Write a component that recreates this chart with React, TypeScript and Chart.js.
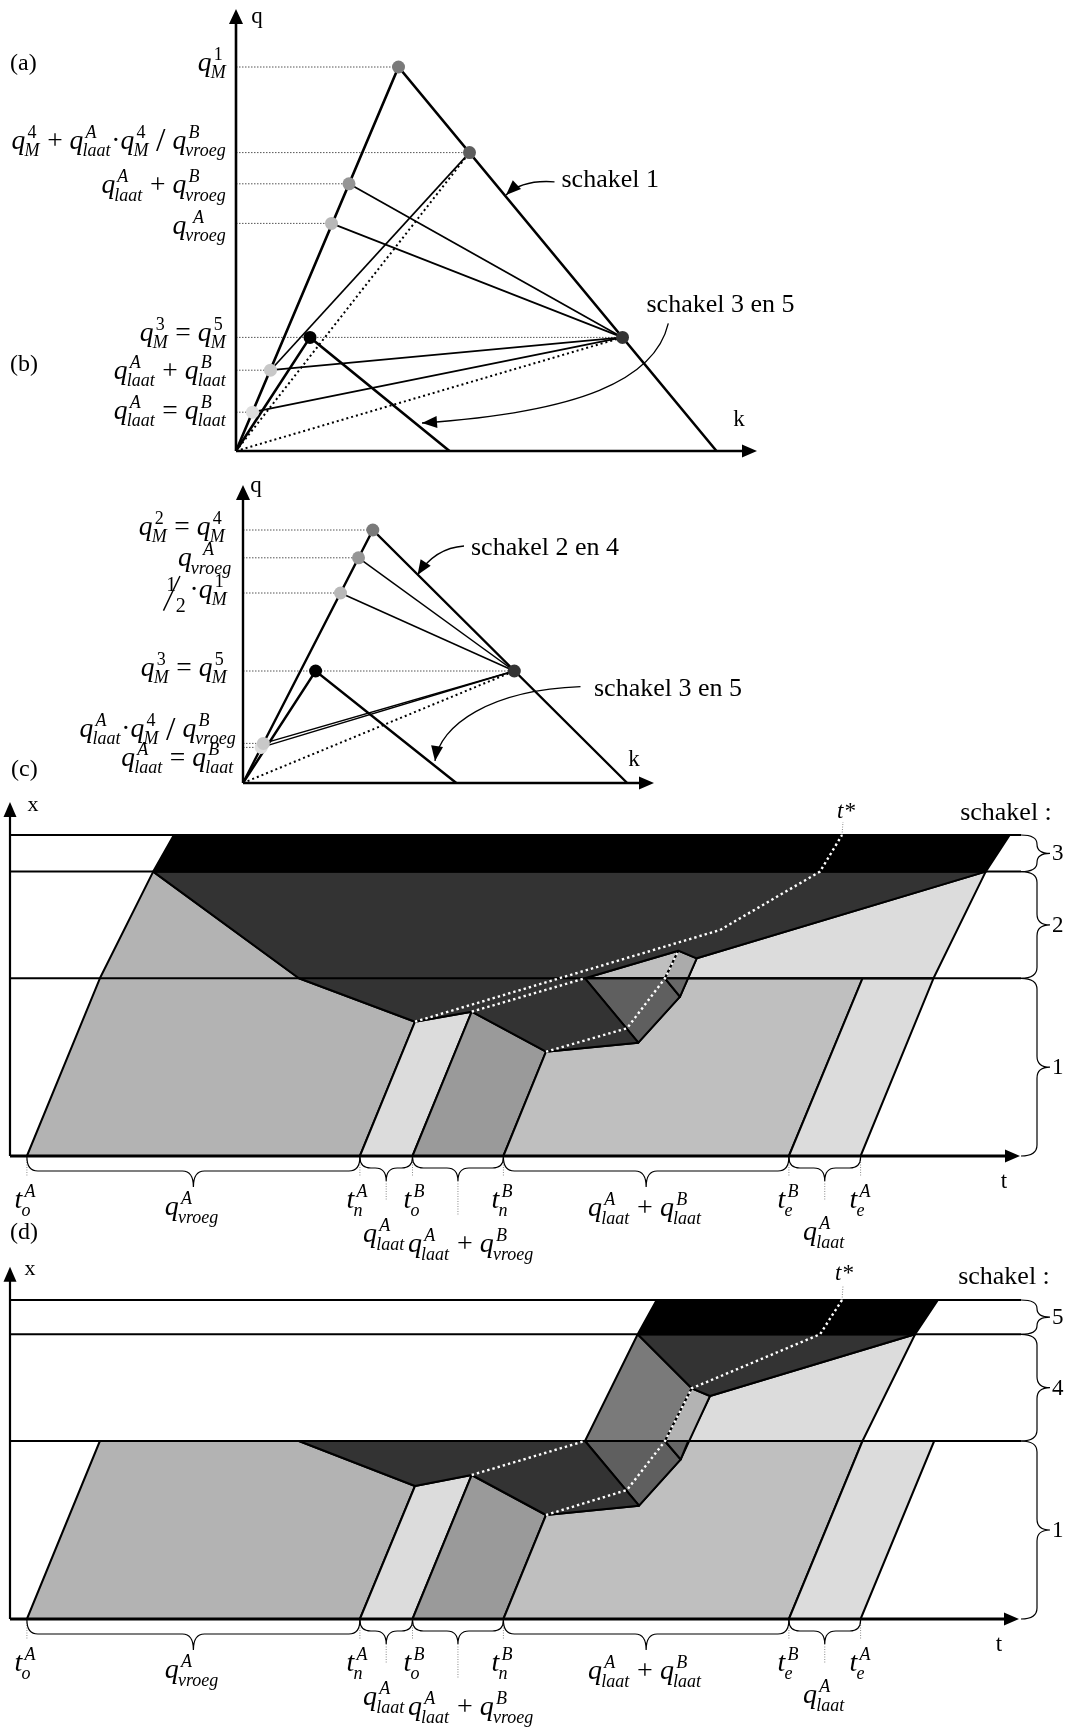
import React, { useEffect, useRef } from "react";
import { Chart, registerables } from "chart.js";

Chart.register(...registerables);

type XY = [number, number];
type Ctx = CanvasRenderingContext2D;
type Scale1 = (v: number) => number;

const SERIF = "'Liberation Serif', 'Times New Roman', serif";
const PAGE_W = 1077;
const PAGE_H = 1729;

/* ───────────── (a)/(b): fundamental diagrams of link 1 and links 3/5 ───────────── */
const fdLink1: XY[] = [[0, 0], [32.5, 96], [96.1, 0]];
const fdLink35: XY[] = [[0, 0], [14.8, 28.4], [42.7, 0]];
// traffic states (k, q) and their marker shades
const statesAK = [32.5, 46.7, 22.6, 19.1, 14.8, 77.3, 3.3, 6.9];
const statesAQ = [96, 74.6, 66.8, 56.9, 28.4, 28.4, 9.7, 20.2];
const statesAColor = ["#7a7a7a", "#5e5e5e", "#959595", "#b8b8b8", "#000000", "#333333", "#dedede", "#c8c8c8"];
const chordsA: XY[] = [[5, 2], [5, 3], [5, 7], [5, 6], [1, 7]];
const raysA = [5, 1];
const guidesA = [0, 1, 2, 3, 5, 7, 6];
const labelsA = [
  "q_{M}^{1}",
  "q_{M}^{4} + q_{laat}^{A}·q_{M}^{4} / q_{vroeg}^{B}",
  "q_{laat}^{A} + q_{vroeg}^{B}",
  "q^{ A}_{vroeg}",
  "q_{M}^{3} = q_{M}^{5}",
  "q_{laat}^{A} + q_{laat}^{B}",
  "q_{laat}^{A} = q_{laat}^{B}",
];
const labelsAQ = [95, 75.6, 64.4, 54.3, 27.6, 18.1, 8.1];

/* ───────────── second diagram: links 2/4 and 3/5 ───────────── */
const fdLink24: XY[] = [[0, 0], [25.96, 63.25], [76.84, 0]];
const fdLink35b: XY[] = [[0, 0], [14.52, 28], [42.66, 0]];
const statesCK = [25.96, 23.1, 19.5, 14.52, 54.26, 3.64, 4.08];
const statesCQ = [63.25, 56.3, 47.5, 28, 28, 8.9, 9.9];
const statesCColor = ["#7a7a7a", "#959595", "#b8b8b8", "#000000", "#333333", "#dedede", "#c8c8c8"];
const chordsC: XY[] = [[4, 1], [4, 2], [4, 5], [4, 6]];
const raysC = [4];
const guidesC = [0, 1, 2, 4, 5, 6];
const labelsC = [
  "q_{M}^{2} = q_{M}^{4}",
  "q^{  A}_{vroeg}",
  "½·q_{M}^{1}",
  "q_{M}^{3} = q_{M}^{5}",
  "q_{laat}^{A}·q_{M}^{4} / q_{vroeg}^{B}",
  "q_{laat}^{A} = q_{laat}^{B}",
];
const labelsCQ = [62, 54.2, 46.25, 26.75, 11.5, 4.3];

/* ───────────── (c): time–space diagram, links 1-2-3 ───────────── */
const levelsC = [17.77, 28.44, 32.1];
const cVroegA: XY[] = [[1.69, 0], [8.99, 17.77], [14.32, 28.44], [28.89, 17.77], [40.5, 13.43], [34.99, 0]];
const cLaatA: XY[] = [[34.99, 0], [40.5, 13.43], [46.17, 14.43], [40.25, 0]];
const cLaatAVroegB: XY[] = [[40.25, 0], [46.17, 14.43], [53.6, 10.43], [49.34, 0]];
const cLaatAB: XY[] = [[49.34, 0], [53.6, 10.43], [62.83, 11.33], [67, 15.93], [65.5, 17.77], [85.25, 17.77], [77.89, 0]];
const cLaatAB2: XY[] = [[57.5, 17.77], [66.83, 20.53], [65.5, 17.77]];
const cTailA: XY[] = [[77.89, 0], [85.25, 17.77], [92.35, 17.77], [85.06, 0]];
const cTail2: XY[] = [[68.67, 19.77], [97.57, 28.44], [92.35, 17.77], [67.8, 17.77]];
const cSpill: XY[] = [[57.5, 17.77], [65.5, 17.77], [67, 15.93], [62.83, 11.33]];
const cWedge: XY[] = [[66.83, 20.53], [68.67, 19.77], [67, 15.93], [65.5, 17.77]];
const cWedgeLow: XY[] = [[65.5, 17.77], [67.8, 17.77], [67, 15.93]];
const cQueue2: XY[] = [[14.32, 28.44], [97.57, 28.44], [68.67, 19.77], [66.83, 20.53], [57.5, 17.77], [62.83, 11.33], [53.6, 10.43], [46.17, 14.43], [40.5, 13.43], [28.89, 17.77]];
const cQueue3: XY[] = [[14.32, 28.44], [16.39, 32.1], [99.97, 32.1], [97.57, 28.44]];
const cStar1: XY[] = [[40.5, 13.43], [71, 22.6], [81, 28.44], [83.2, 32.1]];
const cStar2: XY[] = [[46.17, 14.43], [57.5, 17.77]];
const cStar3: XY[] = [[53.6, 10.43], [61.7, 12.77], [65.5, 17.77], [66.83, 20.53]];

/* ───────────── (d): time–space diagram, links 1-4-5 ───────────── */
const levelsD = [17.8, 28.47, 31.9];
const dVroegA: XY[] = [[1.69, 0], [8.99, 17.8], [28.89, 17.8], [40.5, 13.3], [34.99, 0]];
const dLaatA: XY[] = [[34.99, 0], [40.5, 13.3], [46.17, 14.4], [40.25, 0]];
const dLaatAVroegB: XY[] = [[40.25, 0], [46.17, 14.4], [53.6, 10.4], [49.34, 0]];
const dLaatAB: XY[] = [[49.34, 0], [53.6, 10.4], [62.9, 11.33], [67.07, 15.97], [65.5, 17.8], [85.25, 17.8], [77.89, 0]];
const dTailA: XY[] = [[77.89, 0], [85.25, 17.8], [92.42, 17.8], [85.06, 0]];
const dTail4: XY[] = [[70, 22.3], [90.51, 28.47], [85.25, 17.8], [67.83, 17.8]];
const dSpill1: XY[] = [[57.5, 17.8], [65.5, 17.8], [67.07, 15.97], [62.9, 11.33]];
const dSpill4: XY[] = [[62.77, 28.47], [68.17, 23.07], [65.5, 17.8], [57.5, 17.8]];
const dWedge: XY[] = [[68.17, 23.07], [70, 22.3], [67.07, 15.97], [65.5, 17.8]];
const dWedgeLow: XY[] = [[65.5, 17.8], [67.83, 17.8], [67.07, 15.97]];
const dQueue1: XY[] = [[28.89, 17.8], [57.5, 17.8], [62.9, 11.33], [53.6, 10.4], [46.17, 14.4], [40.5, 13.3]];
const dQueue4: XY[] = [[62.77, 28.47], [90.51, 28.47], [70, 22.3], [68.17, 23.07]];
const dQueue5: XY[] = [[62.77, 28.47], [64.67, 31.9], [92.79, 31.9], [90.51, 28.47]];
const dStar1: XY[] = [[46.17, 14.4], [57.5, 17.8]];
const dStar2: XY[] = [[53.6, 10.4], [61.7, 12.9], [65.5, 17.8], [68.17, 23.07], [81, 28.47], [83.2, 31.9]];

/* ───────────── t-axis markers shared by (c) and (d) ───────────── */
const tMarks = [1.69, 34.99, 40.25, 49.34, 77.89, 85.06];
const tMarkNames = ["t_{o}^{A}", "t_{n}^{A}", "t_{o}^{B}", "t_{n}^{B}", "t_{e}^{B}", "t_{e}^{A}"];
const tMarkNameT = [1.5, 34.7, 40.4, 49.2, 77.8, 85.0];
const flowSpans: XY[] = [[1.69, 34.99], [34.99, 40.25], [40.25, 49.34], [49.34, 77.89], [77.89, 85.06]];
const flowNames = ["q_{vroeg}^{A}", "q_{laat}^{A}", "q_{laat}^{A} + q_{vroeg}^{B}", "q_{laat}^{A} + q_{laat}^{B}", "q_{laat}^{A}"];
const flowNameT = [18.2, 37.4, 46.1, 63.5, 81.4];
const flowNameX = [-5.9, -8.6, -9.6, -6.0, -8.4];
const flowLeader = [0, 2.0, 3.4, 0, 2.0];

/* ───────────── dataset helpers ───────────── */
const pts = (a: XY[]) => a.map(([x, y]) => ({ x, y }));
function area(v: XY[], color: string, edge = 2) {
  return {
    data: pts([...v, v[0]]), showLine: true, fill: "shape", backgroundColor: color,
    borderColor: "#000", borderWidth: edge, borderJoinStyle: "round", pointRadius: 0, pointHoverRadius: 0, tension: 0, clip: false,
  };
}
function path(a: XY[], color = "#000", width = 2, dash: number[] = []) {
  return {
    data: pts(a), showLine: true, fill: false, borderColor: color, borderWidth: width, borderDash: dash,
    borderCapStyle: "butt", pointRadius: 0, pointHoverRadius: 0, tension: 0, clip: false,
  };
}
function marks(a: XY[], colors: string[], r = 6.5) {
  return {
    data: pts(a), showLine: false, pointRadius: r, pointHoverRadius: r, pointBackgroundColor: colors,
    pointBorderColor: colors, pointBorderWidth: 0, clip: false,
  };
}

/* ───────────── drawing helpers for the annotation layer ───────────── */
function text(ctx: Ctx, s: string, x: number, y: number, size: number, align: CanvasTextAlign = "left", base: CanvasTextBaseline = "alphabetic", italic = false) {
  ctx.font = `${italic ? "italic " : ""}${size}px ${SERIF}`;
  ctx.fillStyle = "#000";
  ctx.textAlign = align;
  ctx.textBaseline = base;
  ctx.fillText(s, x, y);
}
function head(ctx: Ctx, x: number, y: number, ang: number, len = 15, half = 6.5) {
  ctx.save();
  ctx.translate(x, y);
  ctx.rotate(ang);
  ctx.beginPath();
  ctx.moveTo(0, 0);
  ctx.lineTo(-len, -half);
  ctx.lineTo(-len, half);
  ctx.closePath();
  ctx.fillStyle = "#000";
  ctx.fill();
  ctx.restore();
}
function curvedArrow(ctx: Ctx, p: XY[]) {
  ctx.beginPath();
  ctx.moveTo(p[0][0], p[0][1]);
  if (p.length === 3) ctx.quadraticCurveTo(p[1][0], p[1][1], p[2][0], p[2][1]);
  else ctx.bezierCurveTo(p[1][0], p[1][1], p[2][0], p[2][1], p[3][0], p[3][1]);
  ctx.setLineDash([]);
  ctx.lineWidth = 1.3;
  ctx.strokeStyle = "#000";
  ctx.stroke();
  const a = p[p.length - 2], b = p[p.length - 1];
  head(ctx, b[0], b[1], Math.atan2(b[1] - a[1], b[0] - a[0]), 15, 6);
}
function hBrace(ctx: Ctx, x1: number, x2: number, y: number) {
  const d = x2 - x1 > 100 ? 30 : 24;
  const h = d / 2 - 1;
  const r = Math.min(11, (x2 - x1) / 4);
  const m = (x1 + x2) / 2;
  ctx.beginPath();
  ctx.moveTo(x1, y);
  ctx.quadraticCurveTo(x1, y + h, x1 + r, y + h);
  ctx.lineTo(m - r, y + h);
  ctx.quadraticCurveTo(m, y + h, m, y + d);
  ctx.quadraticCurveTo(m, y + h, m + r, y + h);
  ctx.lineTo(x2 - r, y + h);
  ctx.quadraticCurveTo(x2, y + h, x2, y);
  ctx.setLineDash([]);
  ctx.lineWidth = 1.2;
  ctx.strokeStyle = "#000";
  ctx.stroke();
  return y + d;
}
function vBrace(ctx: Ctx, yTop: number, yBot: number, x: number) {
  const spine = x + 16, tip = x + 29;
  const r = Math.min(11, (yBot - yTop) / 4);
  const m = (yTop + yBot) / 2;
  ctx.beginPath();
  ctx.moveTo(x, yTop);
  ctx.quadraticCurveTo(spine, yTop, spine, yTop + r);
  ctx.lineTo(spine, m - r);
  ctx.quadraticCurveTo(spine, m, tip, m);
  ctx.quadraticCurveTo(spine, m, spine, m + r);
  ctx.lineTo(spine, yBot - r);
  ctx.quadraticCurveTo(spine, yBot, x, yBot);
  ctx.setLineDash([]);
  ctx.lineWidth = 1.2;
  ctx.strokeStyle = "#000";
  ctx.stroke();
  return [tip, m];
}
function vDots(ctx: Ctx, x: number, y1: number, y2: number) {
  ctx.beginPath();
  ctx.moveTo(x, y1);
  ctx.lineTo(x, y2);
  ctx.setLineDash([1, 1.5]);
  ctx.lineWidth = 1;
  ctx.strokeStyle = "#8a8a8a";
  ctx.stroke();
  ctx.setLineDash([]);
}

/* tiny math typesetter: base glyphs with stacked _{sub} and ^{sup} */
function parseMath(s: string) {
  const out: { base: string; sub?: string; sup?: string }[] = [];
  let i = 0;
  const group = () => {
    if (s[i] === "{") {
      const j = s.indexOf("}", i);
      const g = s.slice(i + 1, j);
      i = j + 1;
      return g;
    }
    return s[i++];
  };
  while (i < s.length) {
    const c = s[i];
    if ((c === "_" || c === "^") && out.length) {
      i++;
      const g = group();
      if (c === "_") out[out.length - 1].sub = g;
      else out[out.length - 1].sup = g;
    } else {
      out.push({ base: c });
      i++;
    }
  }
  return out;
}
const mathFont = (t: string, size: number) => `${/[A-Za-z]/.test(t) ? "italic " : ""}${size}px ${SERIF}`;
function drawMath(ctx: Ctx, s: string, x: number, y: number, size: number, align: "left" | "center" | "right") {
  const pieces = parseMath(s);
  const small = Math.round(size * 0.66);
  const baseSize = (b: string) => (b === "/" ? Math.round(size * 1.25) : size);
  const dims = pieces.map((p) => {
    let w: number;
    if (p.base === "½") w = size * 0.95;
    else {
      ctx.font = mathFont(p.base, baseSize(p.base));
      w = ctx.measureText(p.base).width;
    }
    let sw = 0;
    if (p.sub) {
      ctx.font = mathFont(p.sub, small);
      sw = ctx.measureText(p.sub).width;
    }
    if (p.sup) {
      ctx.font = mathFont(p.sup, small);
      sw = Math.max(sw, ctx.measureText(p.sup).width + size * 0.08);
    }
    return [w, sw];
  });
  const total = dims.reduce((a, d) => a + d[0] + d[1], 0);
  let cx = align === "left" ? x : align === "right" ? x - total : x - total / 2;
  ctx.fillStyle = "#000";
  ctx.textAlign = "left";
  ctx.textBaseline = "alphabetic";
  pieces.forEach((p, i) => {
    const [w] = dims[i];
    if (p.base === "½") {
      ctx.font = `${Math.round(size * 0.72)}px ${SERIF}`;
      ctx.fillText("1", cx + size * 0.1, y - size * 0.24);
      ctx.fillText("2", cx + size * 0.45, y + size * 0.52);
      ctx.beginPath();
      ctx.moveTo(cx, y + size * 0.46);
      ctx.lineTo(cx + size * 0.6, y - size * 0.8);
      ctx.lineWidth = 1.4;
      ctx.strokeStyle = "#000";
      ctx.stroke();
    } else {
      ctx.font = mathFont(p.base, baseSize(p.base));
      ctx.fillText(p.base, cx, p.base === "/" ? y + size * 0.1 : y);
    }
    if (p.sub) {
      ctx.font = mathFont(p.sub, small);
      ctx.fillText(p.sub, cx + w - size * 0.03, y + size * 0.27);
    }
    if (p.sup) {
      ctx.font = mathFont(p.sup, small);
      ctx.fillText(p.sup, cx + w + size * 0.08, y - size * 0.4);
    }
    cx += dims[i][0] + dims[i][1];
  });
}

/* ───────────── one Chart.js instance per panel ───────────── */
interface PanelProps {
  top: number;
  height: number;
  box: [number, number, number, number];
  xMax: number;
  yMax: number;
  datasets: any[];
  decorate: (ctx: Ctx, X: Scale1, Y: Scale1) => void;
}
function Panel({ top, height, box, xMax, yMax, datasets, decorate }: PanelProps) {
  const ref = useRef<HTMLCanvasElement>(null);
  useEffect(() => {
    const canvas = ref.current;
    if (!canvas) return;
    const n = datasets.length;
    const chart = new Chart(canvas, {
      type: "scatter",
      data: { datasets: datasets.map((d, i) => ({ ...d, order: n - i })) },
      options: {
        responsive: false,
        maintainAspectRatio: false,
        animation: false,
        events: [],
        layout: { padding: { left: box[0], top: box[1], right: PAGE_W - box[2], bottom: height - box[3] } },
        scales: {
          x: { type: "linear", min: 0, max: xMax, display: false },
          y: { type: "linear", min: 0, max: yMax, display: false },
        },
        plugins: { legend: { display: false }, tooltip: { enabled: false } },
      },
      plugins: [
        {
          id: "annotations",
          afterDatasetsDraw(c: any) {
            const ctx = c.ctx as Ctx;
            ctx.save();
            decorate(ctx, (v) => c.scales.x.getPixelForValue(v), (v) => c.scales.y.getPixelForValue(v));
            ctx.restore();
          },
        },
      ],
    } as any);
    return () => chart.destroy();
  }, []);
  return <canvas ref={ref} width={PAGE_W} height={height} style={{ position: "absolute", left: 0, top, width: PAGE_W, height }} />;
}

const FD_LABEL = 27.5;
const TS_LABEL = 28;

/* ───────────── panel (a)/(b) ───────────── */
const A_KMAX = 104.2, A_QMAX = 110.5;
const stateA = (i: number): XY => [statesAK[i], statesAQ[i]];
const datasetsA = [
  ...guidesA.map((i) => path([[0, statesAQ[i]], stateA(i)], "#555", 1, [1.5, 1.5])),
  path([[0, 0], [0, A_QMAX - 3]], "#000", 2.6),
  path([[0, 0], [A_KMAX - 2.5, 0]], "#000", 2.6),
  ...chordsA.map(([a, b]) => path([stateA(a), stateA(b)], "#000", 1.7)),
  ...raysA.map((i) => path([[0, 0], stateA(i)], "#000", 2, [2, 3])),
  path(fdLink1, "#000", 2.6),
  path(fdLink35, "#000", 2.6),
  marks(statesAK.map((k, i) => [k, statesAQ[i]] as XY), statesAColor),
];
function decorA(ctx: Ctx, X: Scale1, Y: Scale1) {
  head(ctx, X(0), Y(A_QMAX), -Math.PI / 2, 15, 7);
  head(ctx, X(A_KMAX), Y(0), 0, 15, 6.5);
  text(ctx, "q", X(4.2), Y(108.6), 23, "center", "middle");
  text(ctx, "k", X(100.6), Y(7.75), 23, "center", "middle");
  text(ctx, "(a)", X(-45.2), Y(96.75), 24, "left", "middle");
  text(ctx, "(b)", X(-45.2), Y(21.5), 24, "left", "middle");
  labelsA.forEach((s, i) => drawMath(ctx, s, X(-1.9), Y(labelsAQ[i]), FD_LABEL, "right"));
  text(ctx, "schakel 1", X(65.1), Y(66), 26);
  text(ctx, "schakel 3 en 5", X(82.1), Y(34.8), 26);
  curvedArrow(ctx, [[X(63.7), Y(67.3)], [X(57.3), Y(67.9)], [X(54), Y(64)]]);
  curvedArrow(ctx, [[X(86.46), Y(31.9)], [X(83.8), Y(17.75)], [X(68.8), Y(9.75)], [X(37.2), Y(7)]]);
}

/* ───────────── second diagram ───────────── */
const C_KMAX = 82.2, C_QMAX = 74.5;
const stateC = (i: number): XY => [statesCK[i], statesCQ[i]];
const datasetsC2 = [
  ...guidesC.map((i) => path([[0, statesCQ[i]], stateC(i)], "#555", 1, [1.5, 1.5])),
  path([[0, 0], [0, C_QMAX - 3]], "#000", 2.4),
  path([[0, 0], [C_KMAX - 2.5, 0]], "#000", 2.4),
  ...chordsC.map(([a, b]) => path([stateC(a), stateC(b)], "#000", 1.5)),
  ...raysC.map((i) => path([[0, 0], stateC(i)], "#000", 2, [2, 3])),
  path(fdLink24, "#000", 2.4),
  path(fdLink35b, "#000", 2.4),
  marks(statesCK.map((k, i) => [k, statesCQ[i]] as XY), statesCColor),
];
function decorC2(ctx: Ctx, X: Scale1, Y: Scale1) {
  head(ctx, X(0), Y(C_QMAX), -Math.PI / 2, 15, 7);
  head(ctx, X(C_KMAX), Y(0), 0, 15, 6.5);
  text(ctx, "q", X(2.6), Y(74.2), 23, "center", "middle");
  text(ctx, "k", X(78.2), Y(5.75), 23, "center", "middle");
  text(ctx, "(c)", X(-46.4), Y(3.2), 24, "left", "middle");
  const rightEdge = [-3.5, -2.2, -3.1, -3.1, -1.3, -1.8];
  labelsC.forEach((s, i) => drawMath(ctx, s, X(rightEdge[i]), Y(labelsCQ[i]), FD_LABEL, "right"));
  text(ctx, "schakel 2 en 4", X(45.6), Y(57), 26);
  text(ctx, "schakel 3 en 5", X(70.2), Y(21.75), 26);
  curvedArrow(ctx, [[X(44.2), Y(59.25)], [X(38.4), Y(58.75)], [X(34.9), Y(52)]]);
  curvedArrow(ctx, [[X(67.5), Y(24.1)], [X(49.4), Y(23.25)], [X(39.4), Y(14.5)], [X(38.4), Y(5.5)]]);
}

/* ───────────── time–space panels ───────────── */
function timeSpaceDatasets(polys: [XY[], string][], levels: number[], stars: XY[][], xMax: number, yMax: number, starTop: XY[]) {
  return [
    ...polys.map(([v, c]) => area(v, c)),
    ...levels.map((L) => path([[0, L], [101.1, L]], "#000", 2)),
    path([[0, 0], [0, yMax - 1.2]], "#000", 2.2),
    path([[0, 0], [xMax - 1.2, 0]], "#000", 3),
    ...stars.map((s) => path(s, "#ffffff", 2.4, [2.4, 3])),
    path(starTop, "#8a8a8a", 1, [1, 1.5]),
  ];
}
function timeSpaceDecor(levels: number[], names: string[], xMax: number, yMax: number, lab: { x: XY; t: XY; schakel: XY; star: XY }, extra?: (ctx: Ctx, X: Scale1, Y: Scale1) => void) {
  return (ctx: Ctx, X: Scale1, Y: Scale1) => {
    head(ctx, X(0), Y(yMax), -Math.PI / 2, 15, 6.5);
    head(ctx, X(xMax), Y(0), 0, 15, 6.5);
    text(ctx, "x", X(lab.x[0]), Y(lab.x[1]), 22, "center", "middle");
    text(ctx, "t", X(lab.t[0]), Y(lab.t[1]), 23, "center", "middle");
    text(ctx, "schakel :", X(lab.schakel[0]), Y(lab.schakel[1]), 26, "center", "middle");
    text(ctx, "t*", X(lab.star[0]), Y(lab.star[1]), 23, "center", "middle", true);
    const y0 = Y(0);
    tMarks.forEach((t) => vDots(ctx, X(t), y0 + 1, y0 + 21));
    flowSpans.forEach(([a, b], i) => {
      const tipY = hBrace(ctx, X(a), X(b), y0 + 1);
      if (flowLeader[i] > 0) vDots(ctx, X((a + b) / 2), tipY, tipY + (Y(-flowLeader[i]) - y0));
    });
    tMarkNames.forEach((s, i) => drawMath(ctx, s, X(tMarkNameT[i]), Y(-5.2), TS_LABEL, "center"));
    flowNames.forEach((s, i) => drawMath(ctx, s, X(flowNameT[i]), Y(flowNameX[i]), TS_LABEL, "center"));
    const bounds = [0, ...levels];
    for (let i = 0; i < names.length; i++) {
      const [tip, m] = vBrace(ctx, Y(bounds[i + 1]), Y(bounds[i]), X(101.1));
      text(ctx, names[i], tip + 2, m + 1, 23, "left", "middle");
    }
    if (extra) extra(ctx, X, Y);
  };
}

const TC_MAX = 101, XC_MAX = 35.4;
const datasetsTC = timeSpaceDatasets(
  [
    [cVroegA, "#b3b3b3"],
    [cLaatA, "#dcdcdc"],
    [cLaatAVroegB, "#9a9a9a"],
    [cLaatAB, "#bfbfbf"],
    [cLaatAB2, "#bfbfbf"],
    [cTailA, "#dcdcdc"],
    [cTail2, "#dcdcdc"],
    [cSpill, "#5f5f5f"],
    [cWedge, "#ababab"],
    [cWedgeLow, "#686868"],
    [cQueue2, "#333333"],
    [cQueue3, "#000000"],
  ],
  levelsC,
  [cStar1, cStar2, cStar3],
  TC_MAX,
  XC_MAX,
  [[83.2, 32.1], [83.3, 33.4]]
);
const decorTC = timeSpaceDecor(levelsC, ["1", "2", "3"], TC_MAX, XC_MAX, {
  x: [2.3, 35.1], t: [99.4, -2.6], schakel: [99.6, 34.3], star: [83.6, 34.4],
}, (ctx, X, Y) => text(ctx, "(d)", X(0), Y(-7.7), 24, "left", "middle"));

const TD_MAX = 100.9, XD_MAX = 35.23;
const datasetsTD = timeSpaceDatasets(
  [
    [dVroegA, "#b3b3b3"],
    [dLaatA, "#dcdcdc"],
    [dLaatAVroegB, "#9a9a9a"],
    [dLaatAB, "#bfbfbf"],
    [dTailA, "#dcdcdc"],
    [dTail4, "#dcdcdc"],
    [dSpill1, "#5f5f5f"],
    [dSpill4, "#7a7a7a"],
    [dWedge, "#b3b3b3"],
    [dWedgeLow, "#666666"],
    [dQueue1, "#333333"],
    [dQueue4, "#333333"],
    [dQueue5, "#000000"],
  ],
  levelsD,
  [dStar1, dStar2],
  TD_MAX,
  XD_MAX,
  [[83.2, 31.9], [83.3, 33.3]]
);
const decorTD = timeSpaceDecor(levelsD, ["1", "4", "5"], TD_MAX, XD_MAX, {
  x: [2.0, 35.0], t: [98.9, -2.6], schakel: [99.4, 34.2], star: [83.4, 34.5],
});

export default function App() {
  return (
    <div style={{ position: "absolute", left: 0, top: 0, width: PAGE_W, height: PAGE_H, background: "#fff", overflow: "hidden" }}>
      <Panel top={0} height={470} box={[236, 9, 757, 451]} xMax={A_KMAX} yMax={A_QMAX} datasets={datasetsA} decorate={decorA} />
      <Panel top={470} height={330} box={[243, 15, 654, 313]} xMax={C_KMAX} yMax={C_QMAX} datasets={datasetsC2} decorate={decorC2} />
      <Panel top={790} height={490} box={[10, 12, 1020, 366]} xMax={TC_MAX} yMax={XC_MAX} datasets={datasetsTC} decorate={decorTC} />
      <Panel top={1255} height={474} box={[10, 11.7, 1019, 364]} xMax={TD_MAX} yMax={XD_MAX} datasets={datasetsTD} decorate={decorTD} />
    </div>
  );
}
